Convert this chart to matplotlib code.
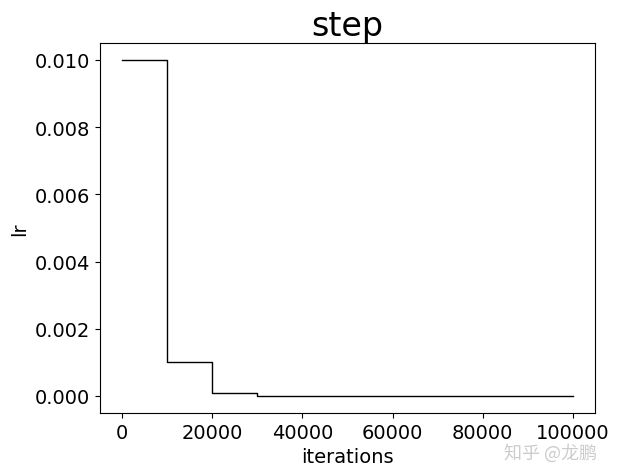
import matplotlib
matplotlib.use('Agg')
import matplotlib.pyplot as plt

# step schedule: boundaries (iterations) and lr in each segment
boundaries = [0, 10000, 20000, 30000, 40000, 50000, 60000, 70000, 80000, 90000, 100000]
lrs = [0.01, 0.001, 0.0001, 0.00001, 0.000001, 0.0000001, 0.00000001,
       0.000000001, 0.0000000001, 0.00000000001]

xs = []
ys = []
for i, lr in enumerate(lrs):
    xs += [boundaries[i], boundaries[i + 1]]
    ys += [lr, lr]

fig = plt.figure(figsize=(6.19, 4.77), dpi=100)
ax = fig.add_axes([0.161, 0.1325, 0.801, 0.775])
ax.plot(xs, ys, color='black', linewidth=1)
ax.set_title('step', fontsize=24)
ax.set_xlabel('iterations', fontsize=14)
ax.set_ylabel('lr', fontsize=14)
ax.tick_params(labelsize=14)
ax.set_yticks([0.0, 0.002, 0.004, 0.006, 0.008, 0.010])
ax.set_yticklabels(['0.000', '0.002', '0.004', '0.006', '0.008', '0.010'])

fig.text(0.815, 0.038, '知乎 @龙鹏', fontsize=13, color='#cccccc',
         family=['Noto Sans CJK SC', 'DejaVu Sans'])

plt.savefig('out.png')
